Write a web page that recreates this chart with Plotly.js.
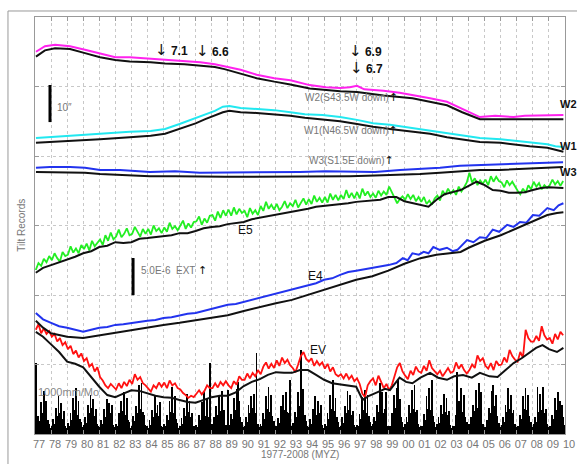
<!DOCTYPE html>
<html><head><meta charset="utf-8">
<script src="https://cdn.plot.ly/plotly-3.0.1.min.js"></script>
<style>html,body{margin:0;padding:0;background:#fff;}#chart{width:577px;height:464px;}</style>
</head><body><div id="chart"></div>
<script>
// ---------- tick labels ----------
const tickYears = [];
for (let y = 1977; y <= 2010; y++) tickYears.push(y);
const tickText = tickYears.map(y => String(y % 100).padStart(2, '0'));

// ---------- W2 (S43.5W down) ----------
const W2_yr = [1977.06,1977.62,1978.25,1979.18,1980.11,1981.05,1982.0,1982.9,1984.2,1985.1,1986.3,1987.3,1988.2,1988.8,1989.8,1990.8,1991.9,1992.9,1993.5,1994.1,1995.1,1996.0,1996.6,1997.05,1997.5,1998.7,1999.7,2000.5,2001.6,2002.65,2003.1,2003.6,2004.1,2004.7,2005.65,2006.8,2007.5,2008.45,2009.9];
const W2_raw = [5.50,5.58,5.60,5.58,5.53,5.47,5.42,5.42,5.40,5.38,5.37,5.35,5.32,5.29,5.24,5.17,5.12,5.09,5.05,5.02,4.99,4.98,4.99,5.01,4.96,4.94,4.91,4.88,4.83,4.78,4.73,4.68,4.62,4.56,4.58,4.56,4.58,4.58,4.59];
const W2b_yr = [1977.06,1977.62,1978.25,1979.18,1980.11,1981.05,1982.0,1982.9,1984.2,1985.1,1986.3,1987.3,1988.2,1988.8,1989.8,1990.8,1991.9,1992.9,1994.1,1996.0,1997.05,1998.7,2000.5,2002.65,2003.6,2004.7,2009.9];
const W2_fit = [5.43,5.52,5.55,5.54,5.48,5.42,5.38,5.36,5.35,5.33,5.32,5.30,5.28,5.25,5.19,5.12,5.07,5.03,4.97,4.93,4.92,4.87,4.83,4.73,4.63,4.53,4.53];

// ---------- W1 (N46.5W down) ----------
const W1_yr = [1977.06,1977.93,1979.2,1981.05,1982.9,1984.2,1985.1,1986.0,1987.0,1987.6,1988.2,1988.7,1989.1,1989.8,1990.8,1991.9,1992.9,1993.8,1994.9,1996.0,1997.05,1998.05,1999.1,2000.5,2001.6,2002.65,2003.8,2004.7,2006.0,2006.9,2007.8,2008.9,2009.4,2009.9];
const W1_raw = [4.26,4.27,4.29,4.32,4.35,4.36,4.39,4.46,4.55,4.60,4.65,4.71,4.72,4.69,4.68,4.66,4.63,4.60,4.59,4.56,4.52,4.47,4.45,4.40,4.37,4.33,4.29,4.26,4.24,4.22,4.20,4.17,4.14,4.13];
const W1_fit = [4.19,4.20,4.22,4.24,4.27,4.29,4.32,4.39,4.47,4.53,4.58,4.63,4.65,4.63,4.62,4.60,4.58,4.55,4.53,4.50,4.46,4.42,4.39,4.35,4.32,4.27,4.23,4.20,4.19,4.16,4.14,4.12,4.09,4.06];

// ---------- W3 (S1.5E down) ----------
const W3_yr = [1977.06,1977.93,1979.18,1980.11,1981.05,1982.29,1984.16,1985.72,1987.27,1988.83,1990.39,1991.95,1993.5,1995.06,1996.61,1998.17,1999.73,2000.97,2002.22,2003.46,2004.71,2005.95,2007.2,2008.44,2009.88];
const W3_raw = [3.83,3.84,3.84,3.83,3.80,3.80,3.77,3.78,3.76,3.76,3.77,3.76,3.77,3.78,3.78,3.77,3.80,3.81,3.83,3.86,3.87,3.87,3.88,3.90,3.91];
const W3_fit = [3.77,3.77,3.77,3.76,3.74,3.73,3.71,3.71,3.70,3.70,3.70,3.70,3.70,3.71,3.71,3.72,3.73,3.74,3.76,3.78,3.80,3.80,3.81,3.83,3.84];

// ---------- E5 (every two months from 1977.05) ----------
const E5_raw = [
 2.36,2.46,2.42,2.52,2.47,2.56, 2.50,2.60,2.53,2.48,2.62,2.56, 2.58,2.70,2.61,2.67,2.60,2.72,
 2.66,2.74,2.64,2.78,2.70,2.75, 2.80,2.72,2.86,2.78,2.90,2.80, 2.84,2.94,2.83,2.88,2.96,2.86,
 2.88,2.98,2.90,2.84,2.95,2.88, 2.95,2.87,3.00,2.92,2.96,2.89, 2.97,2.91,3.04,2.95,2.99,2.93,
 3.00,3.07,2.95,3.03,2.97,3.05, 3.06,3.13,3.01,3.10,3.04,3.14, 3.15,3.07,3.20,3.11,3.22,3.14,
 3.23,3.14,3.26,3.16,3.24,3.18, 3.21,3.12,3.25,3.17,3.22,3.15, 3.28,3.21,3.34,3.24,3.30,3.23,
 3.31,3.22,3.27,3.35,3.25,3.32, 3.28,3.37,3.26,3.33,3.39,3.30, 3.38,3.31,3.43,3.34,3.40,3.33,
 3.41,3.33,3.46,3.37,3.44,3.36, 3.44,3.38,3.51,3.40,3.47,3.39, 3.48,3.39,3.53,3.43,3.49,3.41,
 3.46,3.40,3.50,3.43,3.49,3.44, 3.56,3.48,3.40,3.32,3.38,3.42, 3.37,3.45,3.38,3.44,3.35,3.41,
 3.34,3.41,3.31,3.36,3.30,3.39, 3.43,3.36,3.50,3.44,3.53,3.46, 3.51,3.44,3.56,3.49,3.55,3.62,
 3.76,3.62,3.68,3.58,3.65,3.60, 3.66,3.58,3.71,3.63,3.70,3.64, 3.62,3.55,3.65,3.58,3.63,3.56,
 3.50,3.45,3.53,3.47,3.58,3.52, 3.63,3.56,3.61,3.52,3.58,3.54, 3.58,3.66,3.59,3.64,3.57,3.64];
const E5b_yr = [1977.05,1977.5,1978,1978.5,1979,1979.5,1980,1980.5,1981,1981.5,1982,1982.5,1983,1983.5,1984,1984.5,1985,1985.5,1986,1986.5,1987,1987.5,1988,1988.5,1989,1989.5,1990,1990.5,1991,1991.5,1992,1992.5,1993,1993.5,1994,1994.5,1995,1995.5,1996,1996.5,1997,1997.5,1998,1998.5,1999,1999.5,2000,2000.5,2001,2001.5,2002,2002.5,2003,2003.5,2004,2004.5,2005,2005.5,2006,2006.5,2007,2007.5,2008,2008.5,2009,2009.5,2009.9];
const E5_fit = [2.32,2.39,2.43,2.47,2.50,2.55,2.60,2.63,2.69,2.71,2.76,2.75,2.76,2.81,2.82,2.83,2.85,2.86,2.89,2.89,2.92,2.96,2.98,2.99,3.02,3.04,3.05,3.09,3.11,3.14,3.15,3.18,3.19,3.21,3.24,3.27,3.28,3.29,3.31,3.32,3.34,3.35,3.37,3.37,3.41,3.41,3.35,3.32,3.29,3.27,3.37,3.45,3.48,3.51,3.57,3.63,3.58,3.51,3.50,3.47,3.47,3.48,3.51,3.54,3.55,3.55,3.54];

// ---------- E4 ----------
const E4_yr = [1977.05,1977.5,1978,1978.5,1979,1979.5,1980,1980.5,1981,1981.5,1982,1982.5,1983,1983.5,1984,1984.5,1985,1985.5,1986,1986.5,1987,1987.5,1988,1988.5,1989,1989.5,1990,1990.5,1991,1991.5,1992,1992.5,1993,1993.5,1994,1994.5,1995,1995.5,1996,1996.5,1997,1997.5,1998,1998.5,1999,1999.5,1999.9,2000.2,2000.5,2000.9,2001.2,2001.5,2001.8,2002.2,2002.65,2003.0,2003.3,2003.9,2004.3,2004.7,2005.1,2005.5,2005.9,2006.4,2006.8,2007.2,2007.6,2008.0,2008.4,2008.9,2009.3,2009.6,2009.9];
const E4_raw = [1.74,1.65,1.60,1.55,1.53,1.50,1.47,1.50,1.53,1.54,1.57,1.58,1.60,1.61,1.63,1.64,1.67,1.68,1.71,1.73,1.74,1.77,1.80,1.83,1.86,1.87,1.90,1.93,1.96,1.99,2.01,2.04,2.07,2.10,2.14,2.17,2.22,2.24,2.29,2.33,2.35,2.37,2.39,2.40,2.43,2.46,2.53,2.50,2.60,2.58,2.62,2.60,2.69,2.65,2.68,2.63,2.65,2.79,2.76,2.83,2.82,2.94,2.91,3.01,2.98,3.05,3.04,3.15,3.14,3.25,3.22,3.29,3.32];
const E4b_yr = [1977.05,1977.5,1978,1978.5,1979,1980,1981,1982,1983,1984,1985,1986,1987,1988,1989,1990,1991,1992,1993,1994,1995,1996,1997,1998,1999,2000,2001,2002,2003,2003.5,2004,2005,2006,2007,2008,2008.9,2009.5,2009.9];
const E4_fit = [1.63,1.53,1.45,1.42,1.40,1.38,1.42,1.45,1.50,1.53,1.57,1.60,1.64,1.67,1.71,1.77,1.83,1.88,1.93,2.00,2.07,2.14,2.22,2.27,2.35,2.45,2.53,2.58,2.60,2.62,2.68,2.78,2.86,2.96,3.06,3.15,3.18,3.19];

// ---------- EV (every two months from 1977.05) ----------
const EV_raw = [
 1.50,1.58,1.45,1.52,1.44,1.48, 1.40,1.44,1.33,1.38,1.28,1.32, 1.22,1.27,1.15,1.20,1.10,1.16,
 1.05,1.09,0.97,1.01,0.90,0.96, 0.82,0.77,0.70,0.66,0.72,0.68, 0.64,0.73,0.66,0.75,0.69,0.78,
 0.72,0.86,0.78,0.82,0.73,0.70, 0.66,0.61,0.70,0.66,0.74,0.68, 0.74,0.66,0.77,0.70,0.73,0.66,
 0.64,0.59,0.56,0.52,0.55,0.53, 0.58,0.63,0.57,0.62,0.70,0.66, 0.66,0.73,0.67,0.75,0.70,0.76,
 0.70,0.66,0.76,0.71,0.83,0.78, 0.78,0.87,0.80,0.88,0.83,0.92, 0.86,0.97,1.03,0.94,1.01,0.95,
 1.06,0.98,1.10,1.02,1.07,0.99, 0.95,0.89,1.00,1.12,1.18,1.08, 1.04,1.09,0.98,1.05,0.99,1.03,
 0.94,1.01,0.90,0.96,0.86,0.83, 0.86,0.80,0.87,0.79,0.84,0.76, 0.80,0.72,0.58,0.53,0.70,0.76,
 0.80,0.70,0.84,0.75,0.66,0.72, 0.63,0.70,0.82,0.96,1.02,0.90, 0.84,0.79,0.91,0.85,0.97,0.90,
 0.88,0.98,0.91,1.06,0.95,0.90, 0.86,0.91,0.83,0.89,0.95,0.88, 0.90,1.03,0.94,1.00,0.92,0.87,
 0.92,1.00,0.95,1.13,1.05,1.09, 0.98,0.94,1.02,0.92,1.05,0.99, 1.00,1.10,1.03,1.21,1.12,1.07,
 1.04,1.18,1.10,1.50,1.38,1.33, 1.33,1.41,1.34,1.55,1.42,1.36, 1.38,1.30,1.44,1.36,1.47,1.42];
const EVb_yr = [1977.05,1977.5,1978,1978.5,1979,1979.5,1980,1980.5,1981,1981.5,1982,1982.5,1983,1983.5,1984,1984.5,1985,1985.5,1986,1986.5,1987,1987.5,1988,1988.5,1989,1989.5,1990,1990.5,1991,1991.5,1992,1992.5,1993,1993.5,1994,1994.5,1995,1995.5,1996,1996.5,1997,1997.4,1997.8,1998.3,1998.8,1999.1,1999.7,2000.1,2000.5,2001.0,2001.6,2002.1,2002.65,2003.1,2003.65,2004.2,2004.7,2005.3,2005.8,2006.3,2006.8,2007.3,2007.8,2008.2,2008.6,2009.0,2009.5,2009.9];
const EV_fit = [1.47,1.40,1.29,1.18,1.04,1.01,0.96,0.82,0.68,0.56,0.53,0.58,0.63,0.62,0.58,0.55,0.53,0.52,0.49,0.46,0.45,0.49,0.53,0.55,0.55,0.60,0.69,0.75,0.79,0.85,0.89,0.88,0.88,0.92,0.92,0.85,0.78,0.73,0.71,0.69,0.68,0.49,0.55,0.60,0.65,0.63,0.81,0.75,0.73,0.81,0.88,0.81,0.78,0.83,0.85,0.81,0.88,0.83,0.82,0.92,1.02,1.09,1.18,1.24,1.28,1.22,1.18,1.24];

// ---------- monthly rainfall (mm), Jan 1977 - Dec 2009 ----------
const rainFirstYear = 1977;
const rainMonthly = [
 1020,120,260,180,460,300,620,240,480,200,150,90,
 110,220,150,380,260,540,300,450,220,330,120,90,
 160,120,300,200,520,350,660,280,480,220,170,100,
 130,240,160,420,300,560,380,500,260,360,140,110,
 100,200,140,360,250,500,320,440,300,420,130,100,
 150,110,300,220,480,330,600,280,520,200,170,90,
 120,260,180,400,300,700,360,740,320,280,130,110,
 90,200,130,350,240,560,300,420,260,460,120,100,
 140,110,280,200,480,320,680,300,540,220,160,90,
 110,230,150,380,260,580,320,470,250,300,120,80,
 130,100,280,200,460,300,600,260,500,240,1020,120,
 150,240,160,400,280,560,330,620,280,340,130,110,
 640,130,290,210,520,340,650,750,480,240,170,100,
 120,250,170,420,300,540,380,580,300,1170,140,100,
 150,120,300,220,540,360,680,320,560,260,180,110,
 110,230,160,400,290,560,350,600,320,300,780,120,
 160,130,320,240,600,400,1210,420,650,280,190,120,
 100,210,140,360,250,540,280,480,300,420,130,90,
 140,120,300,210,560,360,780,330,520,240,170,100,
 110,240,160,400,300,620,350,560,280,330,130,100,
 130,110,290,220,530,340,640,300,560,260,170,110,
 150,250,180,420,320,740,380,600,300,360,600,120,
 120,110,300,220,560,380,660,780,500,250,170,100,
 140,240,170,420,300,640,360,710,320,340,140,100,
 120,110,290,200,540,360,660,340,780,260,170,100,
 140,240,160,420,290,580,320,520,280,330,130,90,
 120,110,280,890,480,380,660,320,560,250,170,100,
 150,250,170,420,330,640,380,740,420,600,150,100,
 100,200,150,380,300,620,710,400,560,260,160,100,
 130,240,170,420,320,660,360,560,300,350,140,100,
 120,110,280,220,540,360,660,340,560,260,170,100,
 150,250,170,680,320,580,340,680,300,360,140,100,
 120,110,280,210,520,340,600,300,480,420,240,130];
const rainScaleMm = 1000; // 1000 mm/Mo per grid division

// ---------- build traces ----------
const stepX = (n, perYear) => Array.from({length: n}, (_, i) => 1977.05 + i / perYear);
const rainX = rainMonthly.map((_, i) => rainFirstYear + Math.floor(i / 12) + ((i % 12) + 0.5) / 12);

function line(x, y, color, w) {
  return {type: 'scatter', mode: 'lines', x: x, y: y, line: {color: color, width: w || 2}, hoverinfo: 'skip'};
}
const BLK = '#111';
const traces = [
  {type: 'bar', x: rainX, y: rainMonthly.map(v => v / rainScaleMm), width: 1.35/12,
   marker: {color: '#000', line: {width: 0}}, hoverinfo: 'skip'},
  line(W2_yr, W2_raw, '#ff22ee'),
  line(W1_yr, W1_raw, '#22e8f0'),
  line(W3_yr, W3_raw, '#2233ee'),
  line(stepX(E5_raw.length, 6), E5_raw, '#22ee22', 1.8),
  line(E4_yr, E4_raw, '#2233ee'),
  line(stepX(EV_raw.length, 6), EV_raw, '#ff1111', 1.8),
  line(W2b_yr, W2_fit, BLK),
  line(W1_yr, W1_fit, BLK),
  line(W3_yr, W3_fit, BLK),
  line(E5b_yr, E5_fit, BLK),
  line(E4b_yr, E4_fit, BLK),
  line(EVb_yr, EV_fit, BLK)
];

const FONT = 'Arial, "Liberation Sans", sans-serif';
function ann(text, x, y, opts) {
  return Object.assign({text: text, x: x, y: y, xref: 'paper', yref: 'paper', showarrow: false,
    font: {family: FONT, size: 11, color: '#111'}, xanchor: 'center', yanchor: 'middle'}, opts || {});
}
const gray = {family: FONT, size: 10, color: '#777'};
const quake = {family: FONT, size: 12, color: '#111'};
const down = '<span style="font-family:DejaVu Sans;font-size:15px">↓</span>';
const up = '<span style="color:#111;font-family:DejaVu Sans;font-size:11px">↑</span>';
const annotations = [
  ann(down + ' <b>7.1</b>', 0.258, 0.921, {font: quake}),
  ann(down + ' <b>6.6</b>', 0.334, 0.918, {font: quake}),
  ann(down + ' <b>6.9</b>', 0.623, 0.918, {font: quake}),
  ann(down + ' <b>6.7</b>', 0.626, 0.878, {font: quake}),
  ann('10″', 0.037, 0.784, {xanchor: 'left', font: gray}),
  ann('W2(S43.5W down)' + up, 0.598, 0.806, {font: gray}),
  ann('W1(N46.5W down)' + up, 0.596, 0.727, {font: gray}),
  ann('W3(S1.5E down)' + up, 0.597, 0.655, {font: gray}),
  ann('<b>W2</b>', 0.987, 0.791, {xanchor: 'left', font: {family: FONT, size: 11, color: '#111'}}),
  ann('<b>W1</b>', 0.987, 0.691, {xanchor: 'left', font: {family: FONT, size: 11, color: '#111'}}),
  ann('<b>W3</b>', 0.987, 0.628, {xanchor: 'left', font: {family: FONT, size: 11, color: '#111'}}),
  ann('E5', 0.398, 0.49, {font: {family: FONT, size: 12, color: '#111'}}),
  ann('E4', 0.530, 0.379, {font: {family: FONT, size: 12, color: '#111'}}),
  ann('EV', 0.534, 0.201, {font: {family: FONT, size: 12, color: '#111'}}),
  ann('5.0E-6  EXT ' + up, 0.196, 0.391, {xanchor: 'left', font: gray}),
  ann('1000mm/Mo', 0.002, 0.101, {xanchor: 'left', font: {family: FONT, size: 11, color: '#888'}}),
  ann('Tilt Records', -0.026, 0.5, {textangle: -90, font: gray}),
  ann('1977-2008 (MYZ)', 0.5, -0.05, {font: gray})
];

const shapes = [
  {type: 'rect', xref: 'paper', yref: 'paper', x0: -0.051, y0: 1.0144, x1: 1.2, y1: -0.3,
   line: {color: '#999', width: 1}, layer: 'below'},
  {type: 'line', xref: 'paper', yref: 'paper', x0: 0.0283, x1: 0.0283, y0: 0.837, y1: 0.748,
   line: {color: '#000', width: 3}},
  {type: 'line', xref: 'paper', yref: 'paper', x0: 0.185, x1: 0.185, y0: 0.422, y1: 0.333,
   line: {color: '#000', width: 3}}
];

const layout = {
  width: 577, height: 464,
  margin: {l: 35, r: 12, t: 17, b: 30, pad: 0},
  paper_bgcolor: '#fff', plot_bgcolor: '#fff',
  showlegend: false, bargap: 0,
  font: {family: FONT},
  xaxis: {range: [1977, 2010], tickvals: tickYears, ticktext: tickText,
    showgrid: true, gridcolor: '#c8c8c8', griddash: 'dot', gridwidth: 1,
    ticks: 'inside', ticklen: 4, tickcolor: '#999', showline: true, linecolor: '#999', linewidth: 1,
    mirror: 'ticks', zeroline: false, ticklabelshift: 4,
    tickfont: {family: FONT, size: 11, color: '#777'}},
  yaxis: {range: [0, 6], dtick: 1, tick0: 0, showticklabels: false,
    showgrid: true, gridcolor: '#c8c8c8', griddash: 'dot', gridwidth: 1,
    ticks: 'inside', ticklen: 4, tickcolor: '#999', showline: true, linecolor: '#999', linewidth: 1,
    mirror: 'ticks', zeroline: false},
  annotations: annotations,
  shapes: shapes
};

Plotly.newPlot('chart', traces, layout, {staticPlot: true, displayModeBar: false});
</script>
</body></html>
